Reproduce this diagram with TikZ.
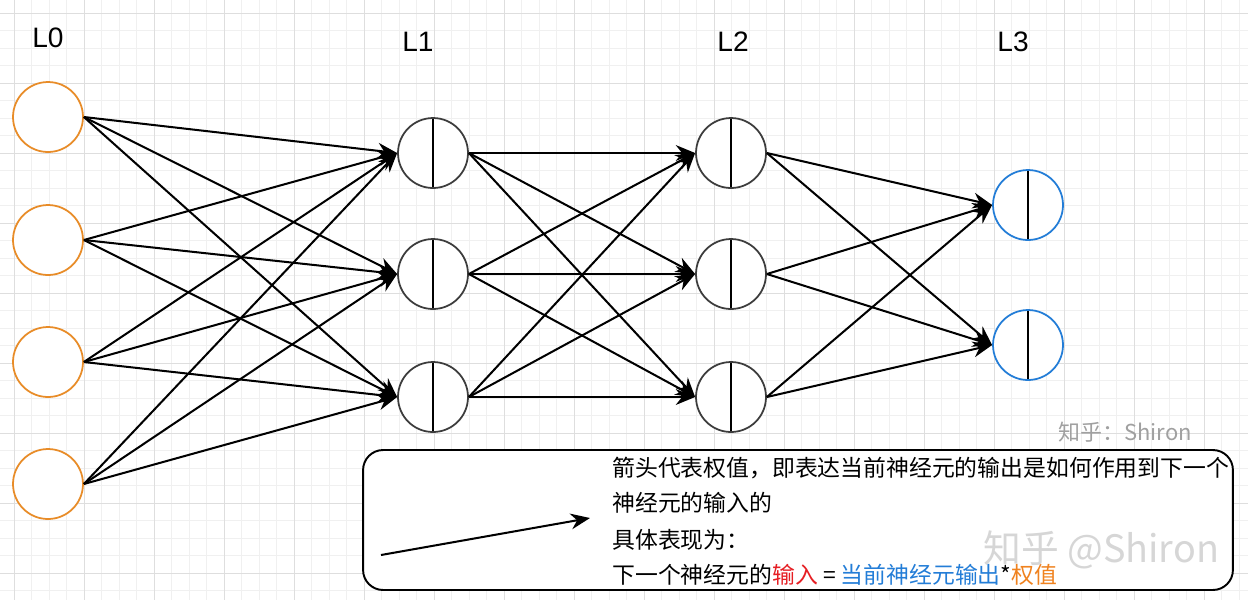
\documentclass[tikz,border=0pt]{standalone}
\usepackage{fontspec}
\setmainfont{Liberation Sans}
\newfontfamily\cjk{Noto Sans CJK SC}
\usepackage{tikz}
\usetikzlibrary{arrows.meta, positioning, calc}
\definecolor{myorange}{RGB}{232,140,40}
\definecolor{myblue}{RGB}{35,125,215}
\definecolor{mygrey}{RGB}{60,60,60}
\definecolor{myred}{RGB}{230,30,35}
\definecolor{txtorange}{RGB}{240,130,30}
\definecolor{gridminor}{RGB}{240,240,240}
\definecolor{gridmajor}{RGB}{222,222,222}
\definecolor{wmgrey}{RGB}{160,160,160}
\tikzset{
  inneuron/.style={circle, draw=myorange, fill=white, minimum size=1.4cm,
    inner sep=0pt, line width=1pt},
  neuron/.style={circle, draw=mygrey, fill=white, minimum size=1.4cm,
    inner sep=0pt, line width=1pt,
    path picture={\draw[black, line width=0.8pt]
      (path picture bounding box.north) -- (path picture bounding box.south);}},
  outneuron/.style={neuron, draw=myblue},
  layerlabel/.style={font=\fontsize{16}{19}\selectfont},
  weight/.style={-{Stealth[length=11pt, width=9pt]}, line width=1.15pt, black},
  legendbox/.style={rectangle, draw=black, fill=white, rounded corners=0.4cm,
    minimum width=17.4cm, minimum height=2.8cm, line width=1.1pt},
  legendtext/.style={anchor=west, inner sep=0pt, font=\cjk\fontsize{13}{15}\selectfont}
}
\begin{document}
\begin{tikzpicture}[x=0.02cm, y=-0.02cm]
  \useasboundingbox (0,0) rectangle (1248,600);
  \fill[white] (0,0) rectangle (1248,600);
  % grid
  \foreach \i in {0,...,71} {
    \draw[gridminor, line width=0.4pt] ({-3.5+17.5*\i},0) -- ({-3.5+17.5*\i},600);
  }
  \foreach \i in {0,...,35} {
    \draw[gridminor, line width=0.4pt] (0,{-4.5+17.5*\i}) -- (1248,{-4.5+17.5*\i});
  }
  \foreach \i in {0,...,17} {
    \draw[gridmajor, line width=0.5pt] ({14+70*\i},0) -- ({14+70*\i},600);
  }
  \foreach \i in {0,...,8} {
    \draw[gridmajor, line width=0.5pt] (0,{13+70*\i}) -- (1248,{13+70*\i});
  }

  % layers
  \node[inneuron] (n01) at (48,117) {};
  \node[inneuron] (n02) at (48,240) {};
  \node[inneuron] (n03) at (48,362) {};
  \node[inneuron] (n04) at (48,484) {};
  \node[neuron] (n11) at (433,153) {};
  \node[neuron] (n12) at (433,274) {};
  \node[neuron] (n13) at (433,397) {};
  \node[neuron] (n21) at (731,153) {};
  \node[neuron] (n22) at (731,274) {};
  \node[neuron] (n23) at (731,397) {};
  \node[outneuron] (n31) at (1028,205) {};
  \node[outneuron] (n32) at (1028,345) {};

  \node[layerlabel] (lab0) at (48,38) {L0};
  \node[layerlabel] (lab1) at (418,42) {L1};
  \node[layerlabel] (lab2) at (733,42) {L2};
  \node[layerlabel] (lab3) at (1013,42) {L3};

  % weights
  \foreach \a in {1,...,4}
    \foreach \b in {1,2,3}
      \draw[weight] (n0\a.east) -- (n1\b.west);
  \foreach \a in {1,2,3}
    \foreach \b in {1,2,3}
      \draw[weight] (n1\a.east) -- (n2\b.west);
  \foreach \a in {1,2,3}
    \foreach \b in {1,2}
      \draw[weight] (n2\a.east) -- (n3\b.west);

  % legend
  \node[legendbox] (legend) at (798,520) {};
  \coordinate (arrtail) at (381,555);
  \coordinate (arrhead) at (590,518);
  \draw[weight] (arrtail) -- (arrhead);
  \node[legendtext] (txt1) at (612,468) {箭头代表权值，即表达当前神经元的输出是如何作用到下一个};
  \node[legendtext] (txt2) at (612,503) {神经元的输入的};
  \node[legendtext] (txt3) at (612,540) {具体表现为：};
  \node[legendtext] (txt4) at (612,575) {下一个神经元的\textcolor{myred}{输入} = \textcolor{myblue}{当前神经元输出}*\textcolor{txtorange}{权值}};

  % watermarks
  \node[anchor=west, inner sep=0pt, wmgrey, font=\cjk\fontsize{12.5}{14}\selectfont] (wm1) at (1058,432) {知乎：Shiron};
  \node[anchor=west, inner sep=0pt, black!20, opacity=0.8, font=\cjk\fontsize{21.5}{26}\selectfont] (wm2) at (983,550) {知乎 @Shiron};
\end{tikzpicture}
\end{document}
